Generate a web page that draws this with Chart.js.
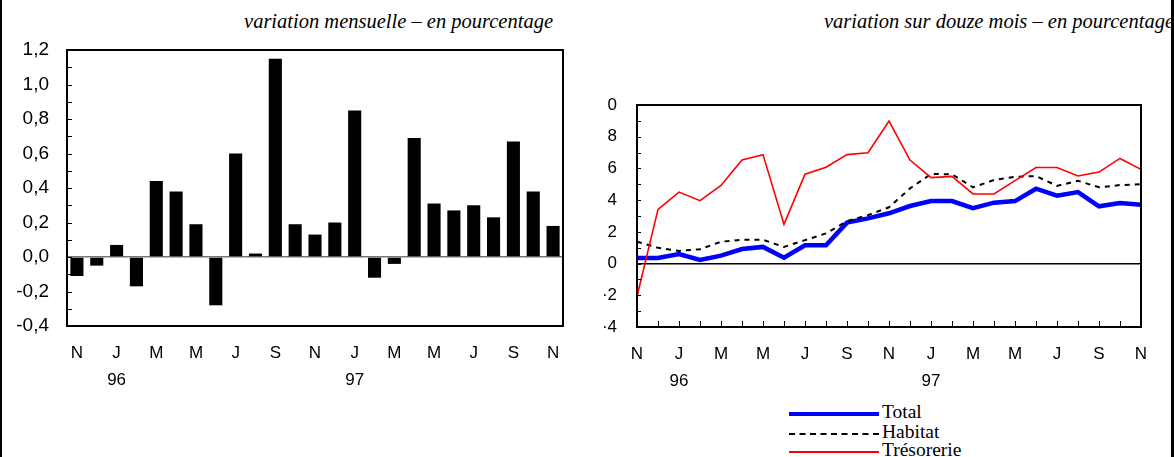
<!DOCTYPE html>
<html>
<head>
<meta charset="utf-8">
<script src="https://cdn.jsdelivr.net/npm/chart.js@4"></script>
<style>
body { margin: 0; width: 1174px; height: 457px; position: relative; background: #fff; overflow: hidden; font-family: "Liberation Sans", Arial, sans-serif; }
.title { position: absolute; top: 10px; font: italic 20.5px "Liberation Serif", "Times New Roman", serif; color: #000; white-space: nowrap; }
#t1 { right: 621px; }
#t2 { right: 0px; }
.edge { position: absolute; top: 0; bottom: 0; background: #000; z-index: 5; }
#c1 { position: absolute; left: 0; top: 40px; }
#c2 { position: absolute; left: 580px; top: 90px; }
.leg { position: absolute; left: 789px; font: 19.5px "Liberation Serif", "Times New Roman", serif; line-height: 18px; white-space: nowrap; }
.leg span { display: inline-block; width: 90px; vertical-align: middle; margin-right: 3px; }
</style>
</head>
<body>
<div class="title" id="t1">variation mensuelle – en pourcentage</div>
<div class="title" id="t2">variation sur douze mois – en pourcentage</div>
<div class="edge" style="left:0;width:2px"></div>
<div class="edge" style="left:1171px;width:3px"></div>
<canvas id="c1" width="575" height="360"></canvas>
<canvas id="c2" width="580" height="310"></canvas>
<div class="leg" style="top:403px"><span style="border-top:4px solid #0000ff"></span>Total</div>
<div class="leg" style="top:423px"><span style="border-top:2px dashed #000"></span>Habitat</div>
<div class="leg" style="top:441px"><span style="border-top:2px solid #ff0000"></span>Trésorerie</div>
<script>
// mois de novembre 1995 à novembre 1997
const months = ['N','D','J','F','M','A','M','J','J','A','S','O','N','D','J','F','M','A','M','J','J','A','S','O','N'];
const yearTicks = ['96', '97'];
const yearIndex = [2, 14];

// variation mensuelle (%)
const mensuelle = [-0.11,-0.05,0.07,-0.17,0.44,0.38,0.19,-0.28,0.60,0.02,1.15,0.19,0.13,0.20,0.85,-0.12,-0.04,0.69,0.31,0.27,0.30,0.23,0.67,0.38,0.18];

// variation sur douze mois (%)
const total = [0.35,0.35,0.6,0.23,0.5,0.92,1.05,0.37,1.15,1.15,2.58,2.85,3.17,3.63,3.94,3.94,3.5,3.84,3.94,4.72,4.28,4.51,3.61,3.82,3.71];
const habitat = [1.38,1.0,0.8,0.9,1.38,1.5,1.5,1.05,1.48,1.9,2.68,3.05,3.55,4.74,5.65,5.63,4.81,5.27,5.47,5.52,4.9,5.22,4.81,4.95,5.0];
const tresorerie = [-2.08,3.42,4.51,3.97,4.93,6.53,6.87,2.47,5.64,6.08,6.87,6.99,8.98,6.53,5.42,5.5,4.39,4.39,5.23,6.06,6.06,5.52,5.77,6.63,5.94];

const rightYLabels = ['·4','·2','0','2','4','6','8','0'];

const xFont = { family: '"Liberation Sans", Arial, sans-serif', size: 17, lineHeight: 1.6 };
const yFont = { family: '"Liberation Sans", Arial, sans-serif', size: 17, lineHeight: 1.2 };

function monthTick(val, i) {
  if (i % 2) return '';
  const k = yearIndex.indexOf(i);
  return k >= 0 ? [months[i], yearTicks[k]] : months[i];
}

// no label overhang padding, the layout padding fixes the plot box
function fixX(h) { return s => { s.height = h; s.paddingLeft = 0; s.paddingRight = 0; }; }
function fixY(w) { return s => { s.width = w; s.paddingTop = 0; s.paddingBottom = 0; }; }

// cadre + petites graduations vers l'intérieur
const frame = {
  id: 'frame',
  afterDatasetsDraw(chart, args, opts) {
    const a = chart.chartArea, ctx = chart.ctx, y = chart.scales.y, x = chart.scales.x;
    ctx.save();
    ctx.strokeStyle = '#000';
    ctx.lineWidth = 1;
    ctx.beginPath();
    for (let v = y.min; v <= y.max + 1e-9; v += opts.yMinor) {
      const py = Math.round(y.getPixelForValue(v)) + 0.5;
      ctx.moveTo(a.left, py); ctx.lineTo(a.left + opts.yTickLen, py);
    }
    if (opts.xTickLen) {
      for (let i = 0; i < chart.data.labels.length; i++) {
        const px = Math.round(x.getPixelForValue(i)) + 0.5;
        ctx.moveTo(px, a.bottom); ctx.lineTo(px, a.bottom - opts.xTickLen);
      }
    }
    ctx.stroke();
    ctx.lineWidth = opts.border;
    ctx.strokeRect(a.left, a.top, a.right - a.left, a.bottom - a.top);
    ctx.restore();
  }
};

new Chart(document.getElementById('c1'), {
  type: 'bar',
  data: {
    labels: months,
    datasets: [{ data: mensuelle, backgroundColor: '#000', barPercentage: 0.66, categoryPercentage: 1 }]
  },
  options: {
    responsive: false, animation: false, devicePixelRatio: 1,
    layout: { padding: { top: 10, right: 12, left: 0, bottom: 0 } },
    plugins: { legend: { display: false }, tooltip: { enabled: false },
      frame: { yMinor: 0.1, yTickLen: 5, border: 2 } },
    scales: {
      x: {
        grid: { display: false, drawTicks: false }, border: { display: false },
        ticks: { color: '#000', font: xFont, autoSkip: false, maxRotation: 0, padding: 14, callback: monthTick },
        afterFit: fixX(74)
      },
      y: {
        min: -0.4, max: 1.2,
        grid: { drawTicks: false, color: c => c.tick.value === 0 ? '#777' : 'transparent', lineWidth: 1.5 },
        border: { display: false },
        ticks: { stepSize: 0.2, autoSkip: false, color: '#000', font: { ...yFont, size: 19 }, padding: 18,
          callback: v => Math.abs(v) < 1e-9 ? '0,0' : v.toFixed(1).replace('.', ',') },
        afterFit: fixY(67)
      }
    }
  },
  plugins: [frame]
});

new Chart(document.getElementById('c2'), {
  type: 'line',
  data: {
    labels: months,
    datasets: [
      { label: 'Total', data: total, borderColor: '#0000ff', borderWidth: 4.5, pointRadius: 0, order: 2 },
      { label: 'Habitat', data: habitat, borderColor: '#000', borderWidth: 2, borderDash: [5, 5], pointRadius: 0, order: 1 },
      { label: 'Trésorerie', data: tresorerie, borderColor: '#ff0000', borderWidth: 1.6, pointRadius: 0, order: 0 }
    ]
  },
  options: {
    responsive: false, animation: false, devicePixelRatio: 1,
    layout: { padding: { top: 15, right: 19, left: 0, bottom: 0 } },
    plugins: { legend: { display: false }, tooltip: { enabled: false },
      frame: { yMinor: 1, yTickLen: 4, xTickLen: 6, border: 2 } },
    scales: {
      x: {
        offset: false,
        grid: { display: false, drawTicks: false }, border: { display: false },
        ticks: { color: '#000', font: xFont, autoSkip: false, maxRotation: 0, padding: 14, callback: monthTick },
        afterFit: fixX(73)
      },
      y: {
        min: -4, max: 10,
        grid: { drawTicks: false, color: c => c.tick.value === 0 ? '#000' : 'transparent', lineWidth: 1.5 },
        border: { display: false },
        ticks: { stepSize: 2, autoSkip: false, color: '#000', font: yFont, padding: 20,
          callback: (v, i) => rightYLabels[i] },
        afterFit: fixY(57)
      }
    }
  },
  plugins: [frame]
});
</script>
</body>
</html>
